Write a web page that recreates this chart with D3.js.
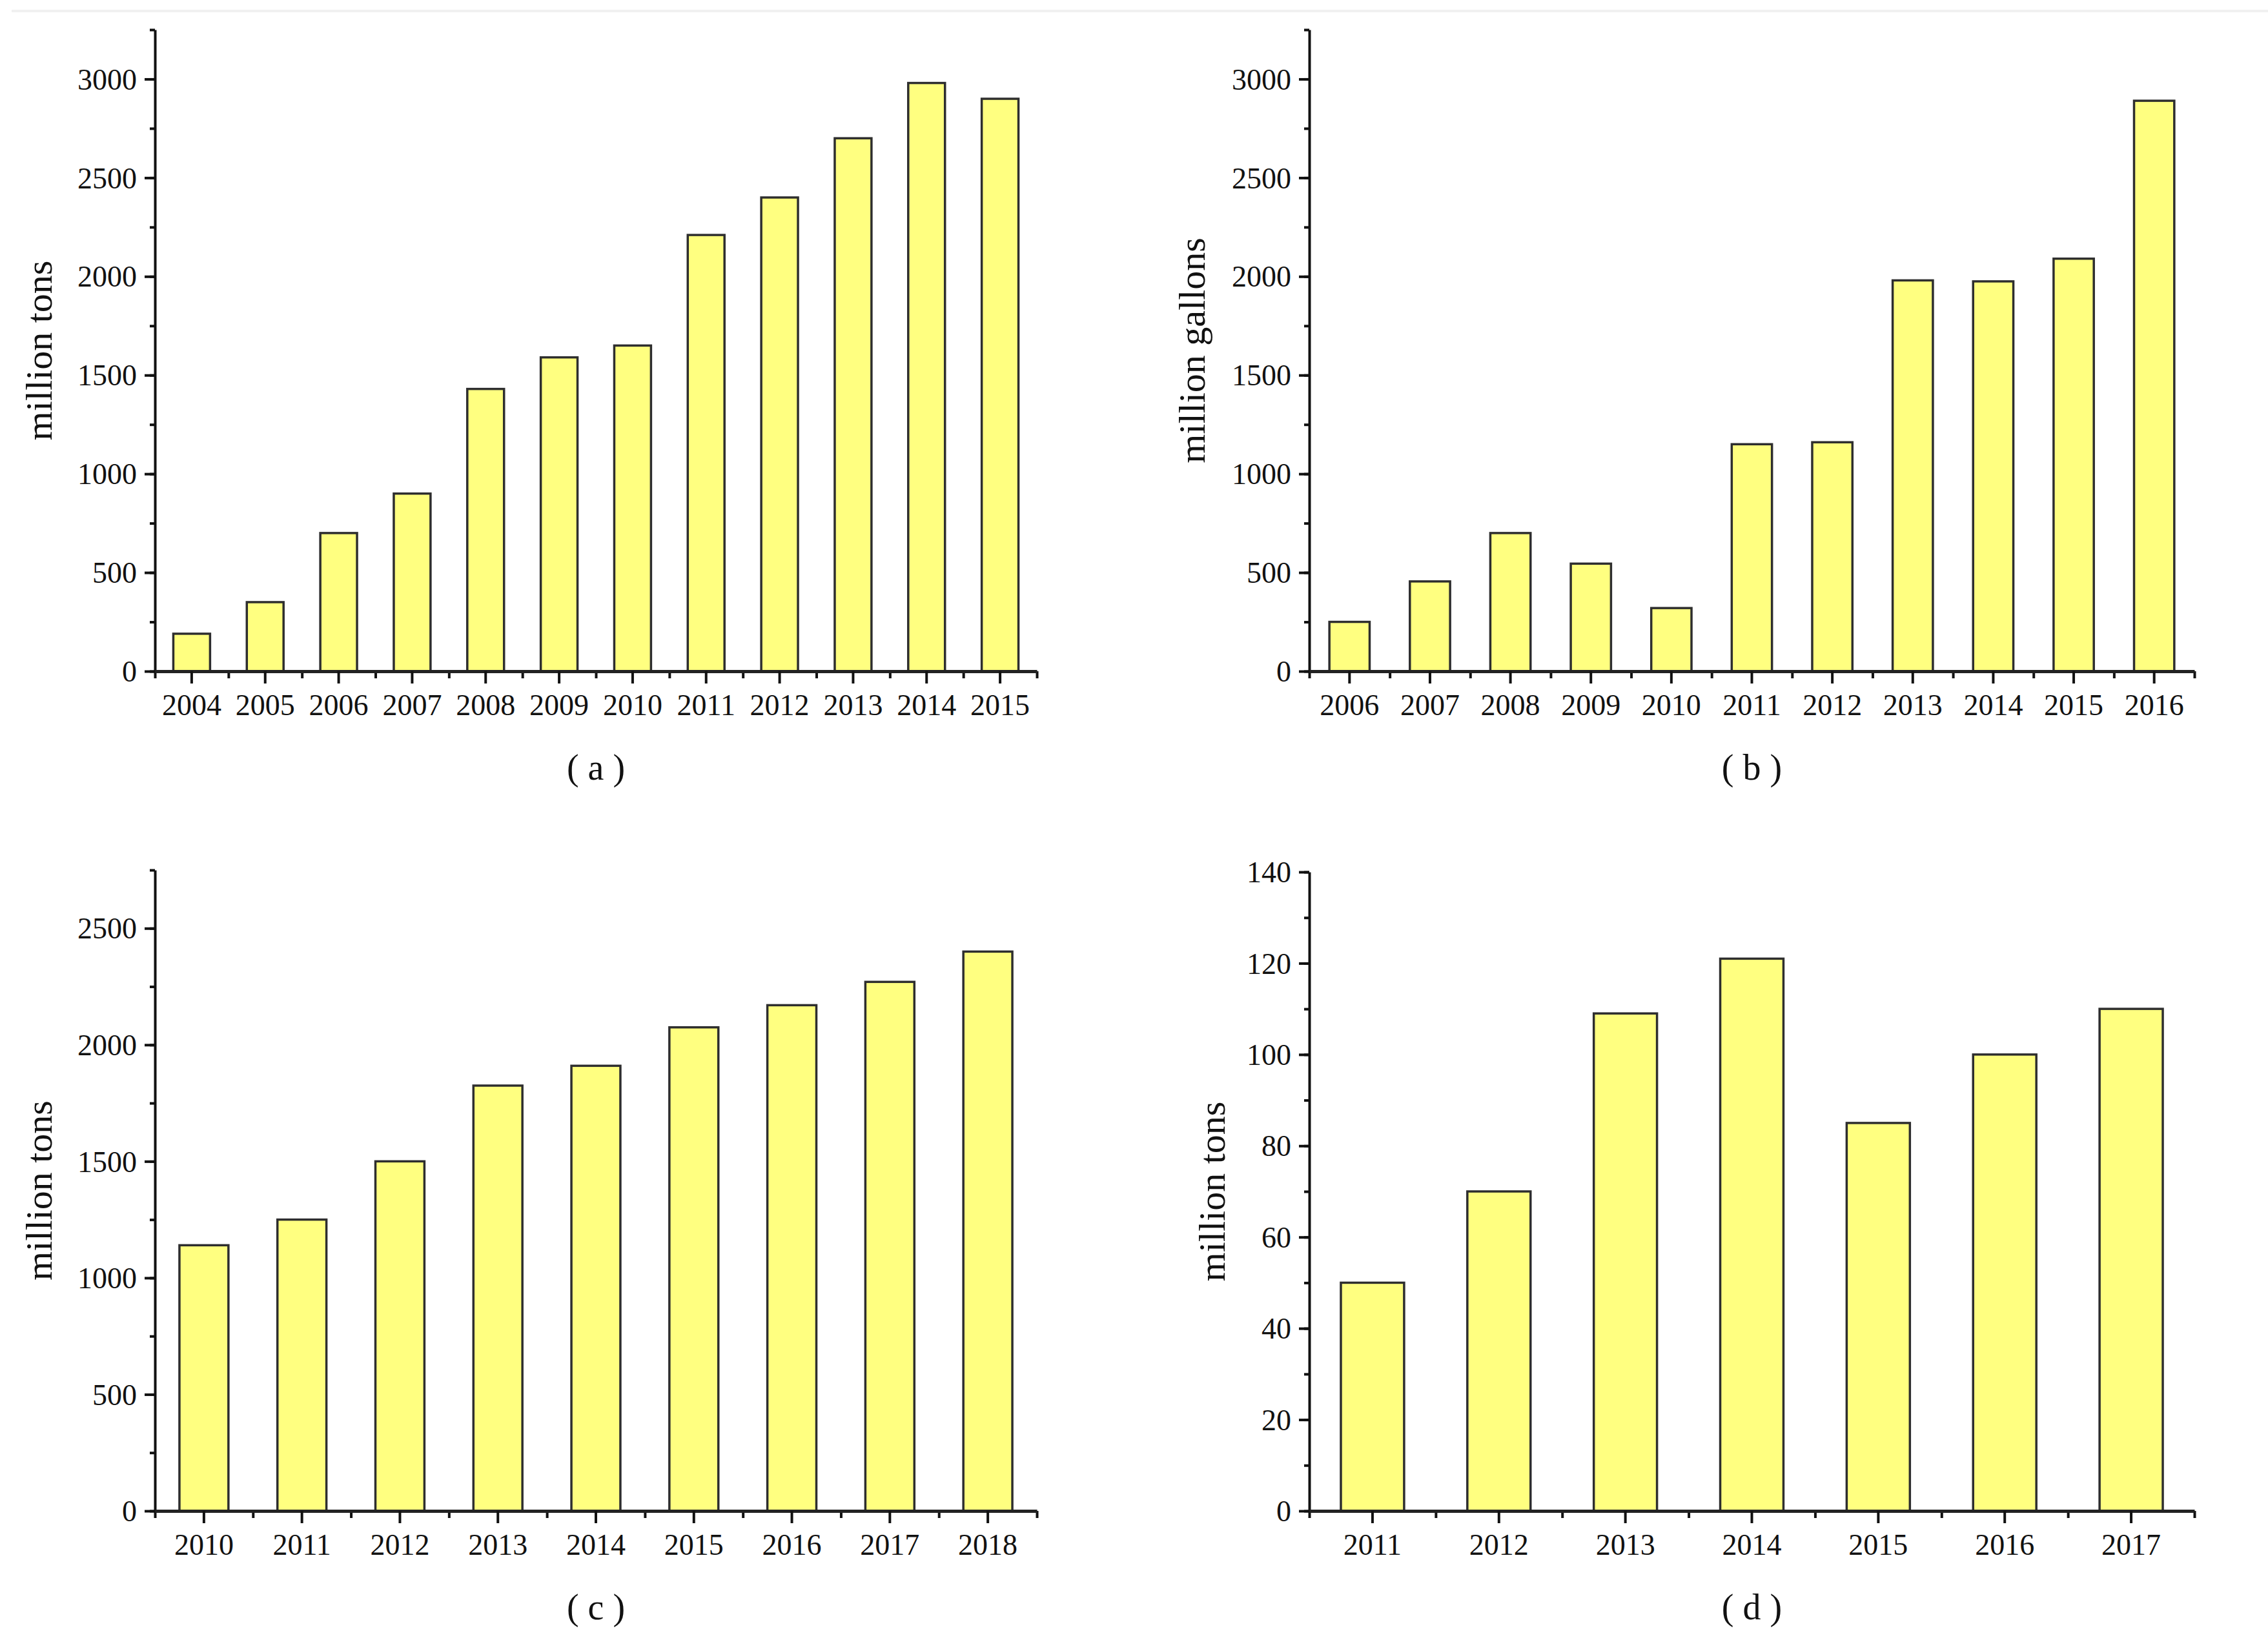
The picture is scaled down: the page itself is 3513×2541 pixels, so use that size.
<!DOCTYPE html>
<html>
<head>
<meta charset="utf-8">
<script src="https://cdnjs.cloudflare.com/ajax/libs/d3/7.8.5/d3.min.js"></script>
<style>
  body { margin: 0; background: #fff; }
  svg text { font-family: "Liberation Serif", "Times New Roman", serif; fill: #111; }
</style>
</head>
<body>
<svg id="chart" width="3513" height="2541"></svg>
<script>
// data
const yearsA = ['2004','2005','2006','2007','2008','2009','2010','2011','2012','2013','2014','2015'];
const valuesA = [190, 350, 700, 900, 1430, 1590, 1650, 2210, 2400, 2700, 2980, 2900];
const yearsB = ['2006','2007','2008','2009','2010','2011','2012','2013','2014','2015','2016'];
const valuesB = [250, 455, 700, 545, 320, 1150, 1160, 1980, 1975, 2090, 2890];
const yearsC = ['2010','2011','2012','2013','2014','2015','2016','2017','2018'];
const valuesC = [1140, 1250, 1500, 1825, 1910, 2075, 2170, 2270, 2400];
const yearsD = ['2011','2012','2013','2014','2015','2016','2017'];
const valuesD = [50, 70, 109, 121, 85, 100, 110];

const ticksAB = [0, 500, 1000, 1500, 2000, 2500, 3000];
const ticksC = [0, 500, 1000, 1500, 2000, 2500];
const ticksD = [0, 20, 40, 60, 80, 100, 120, 140];

const svg = d3.select('#chart');

// thin grey rule along the top
svg.append('rect')
  .attr('x', 18).attr('y', 15).attr('width', 3495).attr('height', 4)
  .attr('fill', '#f1f1f1');

const panels = [
  { cats: yearsA, vals: valuesA, ticks: ticksAB, max: 3250, minor: 250,
    x0: 240, x1: 1606, yBase: 1040, yTop: 46, label: 'million tons', labelX: 80, tag: '( a )' },
  { cats: yearsB, vals: valuesB, ticks: ticksAB, max: 3250, minor: 250,
    x0: 2028, x1: 3399, yBase: 1040, yTop: 46, label: 'million gallons', labelX: 1866, tag: '( b )' },
  { cats: yearsC, vals: valuesC, ticks: ticksC, max: 2750, minor: 250,
    x0: 240, x1: 1606, yBase: 2341, yTop: 1348, label: 'million tons', labelX: 80, tag: '( c )' },
  { cats: yearsD, vals: valuesD, ticks: ticksD, max: 140, minor: 10,
    x0: 2028, x1: 3399, yBase: 2341, yTop: 1351, label: 'million tons', labelX: 1897, tag: '( d )' }
];

panels.forEach(p => {
  const g = svg.append('g');
  const n = p.cats.length;

  const x = d3.scaleBand()
    .domain(p.cats)
    .range([p.x0, p.x1])
    .paddingInner(0.5)
    .paddingOuter(0.25);
  const xMinor = d3.scaleLinear().domain([0, n]).range([p.x0, p.x1]);
  const y = d3.scaleLinear().domain([0, p.max]).range([p.yBase, p.yTop]);

  // bars
  g.selectAll('rect.bar')
    .data(p.cats)
    .enter()
    .append('rect')
    .attr('class', 'bar')
    .attr('x', d => x(d))
    .attr('y', (d, i) => y(p.vals[i]))
    .attr('width', x.bandwidth())
    .attr('height', (d, i) => y(0) - y(p.vals[i]))
    .attr('fill', '#ffff80')
    .attr('stroke', '#2e2e2e')
    .attr('stroke-width', 3.5);

  // y axis: minor then major ticks
  g.append('g')
    .attr('transform', `translate(${p.x0},0)`)
    .call(d3.axisLeft(y)
      .tickValues(d3.range(0, p.max + p.minor / 2, p.minor))
      .tickSize(8).tickSizeOuter(0).tickFormat(''))
    .call(a => a.select('.domain').remove());

  const yAxis = g.append('g')
    .attr('transform', `translate(${p.x0},0)`)
    .call(d3.axisLeft(y)
      .tickValues(p.ticks)
      .tickFormat(d3.format('d'))
      .tickSize(16).tickSizeOuter(0).tickPadding(12));
  yAxis.select('.domain').attr('stroke', '#111').attr('stroke-width', 4);
  yAxis.selectAll('.tick text')
    .style('font-size', '46px')
    .attr('dy', '0.34em');

  // x axis: minor ticks at band edges, major at centres
  g.append('g')
    .attr('transform', `translate(0,${p.yBase})`)
    .call(d3.axisBottom(xMinor)
      .tickValues(d3.range(n + 1))
      .tickSize(11).tickSizeOuter(0).tickFormat(''))
    .call(a => a.select('.domain').remove());

  const xAxis = g.append('g')
    .attr('transform', `translate(0,${p.yBase})`)
    .call(d3.axisBottom(x).tickSize(19).tickSizeOuter(0).tickPadding(16));
  xAxis.select('.domain').attr('stroke', '#222').attr('stroke-width', 5);
  xAxis.selectAll('.tick text')
    .style('font-size', '46px')
    .attr('dy', '0.72em');

  g.selectAll('.tick line').attr('stroke', '#111').attr('stroke-width', 4);

  // y axis title
  g.append('text')
    .attr('transform', `translate(${p.labelX},${(p.yBase + p.yTop) / 2}) rotate(-90)`)
    .attr('text-anchor', 'middle')
    .style('font-size', '58px')
    .text(p.label);

  // panel tag
  g.append('text')
    .attr('x', (p.x0 + p.x1) / 2)
    .attr('y', p.yBase + 168)
    .attr('text-anchor', 'middle')
    .style('font-size', '56px')
    .attr('xml:space', 'preserve')
    .text(p.tag);
});
</script>
</body>
</html>
